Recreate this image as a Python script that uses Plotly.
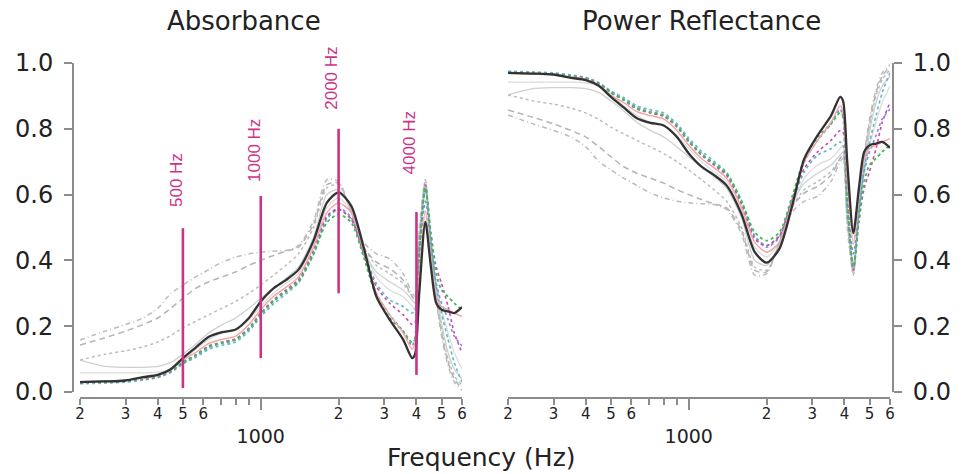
import math
import plotly.graph_objects as go

# ---------------- data ----------------
freq_hz = [200, 250, 300, 350, 400, 450, 500, 560, 630, 710, 800, 900, 1000,
           1120, 1250, 1400, 1600, 1800, 2000, 2240, 2500, 2800, 3150, 3550,
           3850, 3950, 4100, 4330, 4550, 4770, 5000, 5300, 5600, 6000]

abs_black = [0.030, 0.032, 0.035, 0.045, 0.052, 0.070, 0.103, 0.135, 0.168, 0.182, 0.190, 0.225, 0.275,
             0.315, 0.340, 0.372, 0.460, 0.575, 0.607, 0.565, 0.440, 0.290, 0.220, 0.160,
             0.103, 0.115, 0.300, 0.517, 0.380, 0.270, 0.250, 0.245, 0.240, 0.258]
abs_pink = [0.032, 0.034, 0.036, 0.042, 0.050, 0.068, 0.098, 0.120, 0.148, 0.160, 0.170, 0.205, 0.250,
            0.290, 0.318, 0.350, 0.440, 0.545, 0.575, 0.545, 0.430, 0.300, 0.235, 0.180,
            0.130, 0.150, 0.350, 0.550, 0.400, 0.290, 0.260, 0.250, 0.240, 0.230]
abs_blue = [0.028, 0.030, 0.033, 0.038, 0.045, 0.062, 0.088, 0.110, 0.135, 0.148, 0.158, 0.190, 0.235,
            0.275, 0.305, 0.338, 0.425, 0.530, 0.560, 0.530, 0.420, 0.300, 0.235, 0.185,
            0.140, 0.170, 0.400, 0.580, 0.450, 0.330, 0.270, 0.220, 0.170, 0.140]
abs_teal = [0.025, 0.027, 0.030, 0.036, 0.044, 0.060, 0.085, 0.105, 0.130, 0.142, 0.152, 0.185, 0.228,
            0.268, 0.298, 0.332, 0.418, 0.525, 0.555, 0.525, 0.430, 0.330, 0.280, 0.260,
            0.240, 0.250, 0.450, 0.620, 0.450, 0.320, 0.240, 0.160, 0.090, 0.030]
abs_green = [0.030, 0.031, 0.034, 0.040, 0.048, 0.065, 0.090, 0.112, 0.138, 0.150, 0.160, 0.192, 0.238,
             0.278, 0.305, 0.335, 0.420, 0.515, 0.540, 0.515, 0.410, 0.290, 0.225, 0.185,
             0.150, 0.160, 0.420, 0.620, 0.480, 0.360, 0.310, 0.290, 0.270, 0.250]
abs_magenta = [0.030, 0.032, 0.035, 0.040, 0.047, 0.064, 0.090, 0.113, 0.140, 0.152, 0.162, 0.195, 0.240,
               0.280, 0.310, 0.342, 0.430, 0.535, 0.555, 0.525, 0.420, 0.320, 0.270, 0.235,
               0.205, 0.210, 0.420, 0.630, 0.480, 0.380, 0.330, 0.260, 0.180, 0.120]
abs_gray_dashdot = [0.158, 0.185, 0.205, 0.225, 0.255, 0.300, 0.325, 0.350, 0.372, 0.395, 0.410, 0.420, 0.425,
                    0.428, 0.430, 0.445, 0.520, 0.645, 0.640, 0.545, 0.455, 0.420, 0.405, 0.360,
                    0.300, 0.290, 0.500, 0.645, 0.450, 0.280, 0.170, 0.080, 0.030, 0.005]
abs_gray_dash = [0.143, 0.165, 0.185, 0.205, 0.225, 0.255, 0.285, 0.315, 0.335, 0.350, 0.365, 0.385, 0.400,
                 0.415, 0.428, 0.440, 0.510, 0.630, 0.635, 0.545, 0.440, 0.395, 0.375, 0.340,
                 0.290, 0.280, 0.480, 0.640, 0.450, 0.290, 0.180, 0.090, 0.040, 0.010]
abs_gray_dot = [0.097, 0.115, 0.125, 0.137, 0.152, 0.172, 0.195, 0.215, 0.235, 0.255, 0.275, 0.300, 0.325,
                0.355, 0.385, 0.420, 0.500, 0.620, 0.630, 0.550, 0.440, 0.385, 0.360, 0.330,
                0.290, 0.280, 0.470, 0.630, 0.460, 0.300, 0.190, 0.100, 0.050, 0.020]
abs_gray_solid = [0.097, 0.078, 0.075, 0.075, 0.078, 0.090, 0.115, 0.145, 0.180, 0.205, 0.225, 0.255, 0.285,
                  0.315, 0.345, 0.380, 0.470, 0.600, 0.615, 0.550, 0.430, 0.365, 0.335, 0.310,
                  0.280, 0.270, 0.460, 0.620, 0.460, 0.320, 0.210, 0.120, 0.070, 0.040]
abs_gray_light = [0.058, 0.058, 0.058, 0.058, 0.060, 0.070, 0.095, 0.130, 0.160, 0.180, 0.190, 0.220, 0.260,
                  0.300, 0.330, 0.360, 0.450, 0.560, 0.590, 0.545, 0.440, 0.350, 0.310, 0.290,
                  0.260, 0.250, 0.440, 0.600, 0.450, 0.330, 0.250, 0.180, 0.120, 0.070]

# vertical marker lines on the absorbance panel
marker_freqs = [500, 1000, 2000, 4000]
marker_labels = ["500 Hz", "1000 Hz", "2000 Hz", "4000 Hz"]
marker_bottom = [0.012, 0.103, 0.300, 0.052]
marker_top = [0.498, 0.596, 0.800, 0.547]
marker_label_center = [0.644, 0.735, 0.954, 0.757]

minor_tick_vals = [200, 300, 400, 500, 600, 700, 800, 900, 2000, 3000, 4000, 5000, 6000]
minor_tick_text = ["2", "3", "4", "5", "6", "", "", "", "2", "3", "4", "5", "6"]
major_tick_vals = [1000]
major_tick_text = ["1000"]
y_tick_vals = [0.0, 0.2, 0.4, 0.6, 0.8, 1.0]
y_tick_text = ["0.0", "0.2", "0.4", "0.6", "0.8", "1.0"]

# ---------------- styles ----------------
W, H = 963, 474
FONT = "DejaVu Sans, Liberation Sans, Arial, sans-serif"
AXC = "#8c8c8c"
MAG = "#cc3388"

curves = [
    # (absorbance values, colour, dash, width)
    (abs_gray_light, "#dcdcdc", "solid", 1.3),
    (abs_gray_solid, "#cfcfcf", "solid", 1.3),
    (abs_gray_dot, "#bdbdbd", "dot", 1.5),
    (abs_gray_dash, "#b4b4b4", "6px,4px", 1.5),
    (abs_gray_dashdot, "#bcbcbc", "5px,3px,1px,3px", 1.5),
    (abs_teal, "#5fb8c8", "dot", 1.6),
    (abs_blue, "#7890e0", "dot", 1.6),
    (abs_magenta, "#d048a8", "dot", 1.6),
    (abs_green, "#3cbf4a", "dot", 1.8),
    (abs_pink, "#f3a3a3", "solid", 1.4),
    (abs_black, "#333333", "solid", 2.3),
]

fig = go.Figure()

for vals, color, dash, width in curves:
    line = dict(color=color, dash=dash, width=width, shape="spline", smoothing=0.7)
    fig.add_trace(go.Scatter(x=freq_hz, y=vals, mode="lines", line=line,
                             xaxis="x", yaxis="y", showlegend=False, hoverinfo="skip"))
    # power reflectance = 1 - absorbance
    refl = [round(1.0 - v, 4) for v in vals]
    fig.add_trace(go.Scatter(x=freq_hz, y=refl, mode="lines", line=line,
                             xaxis="x2", yaxis="y2", showlegend=False, hoverinfo="skip"))

for f, lo, hi in zip(marker_freqs, marker_bottom, marker_top):
    fig.add_trace(go.Scatter(x=[f, f], y=[lo, hi], mode="lines",
                             line=dict(color=MAG, width=2.6),
                             xaxis="x", yaxis="y", showlegend=False, hoverinfo="skip"))

# carriers for the overlay axes that draw the long 1000 tick
fig.add_trace(go.Scatter(x=[1000], y=[None], mode="lines", xaxis="x3", yaxis="y",
                         showlegend=False, hoverinfo="skip"))
fig.add_trace(go.Scatter(x=[1000], y=[None], mode="lines", xaxis="x4", yaxis="y2",
                         showlegend=False, hoverinfo="skip"))

annotations = []
for f, txt, yc in zip(marker_freqs, marker_labels, marker_label_center):
    annotations.append(dict(x=math.log10(f), y=yc, xref="x", yref="y", text=txt,
                            textangle=-90, showarrow=False, xshift=-7,
                            xanchor="center", yanchor="middle",
                            font=dict(family="Liberation Sans, Arial, sans-serif",
                                      size=17, color=MAG)))

annotations += [
    dict(x=244 / W, y=1 - 21 / H, xref="paper", yref="paper", text="Absorbance",
         xanchor="center", yanchor="middle", showarrow=False,
         font=dict(family=FONT, size=26, color="#222")),
    dict(x=701 / W, y=1 - 21 / H, xref="paper", yref="paper", text="Power Reflectance",
         xanchor="center", yanchor="middle", showarrow=False,
         font=dict(family=FONT, size=26, color="#222")),
    dict(x=481 / W, y=1 - 457 / H, xref="paper", yref="paper", text="Frequency (Hz)",
         xanchor="center", yanchor="middle", showarrow=False,
         font=dict(family=FONT, size=25, color="#222")),
]

xrange = [math.log10(200), math.log10(6000)]
xpos = 1 - 398 / H
ydom = [1 - 392 / H, 1 - 63 / H]

def xaxis_main(dom):
    return dict(type="log", range=xrange, domain=dom, anchor="free", position=xpos,
                showline=True, linecolor=AXC, linewidth=2, ticks="outside", ticklen=6,
                tickwidth=1.5, tickcolor=AXC, tickmode="array", tickvals=minor_tick_vals,
                ticktext=minor_tick_text, tickfont=dict(family=FONT, size=15, color="#222"),
                showgrid=False, zeroline=False, automargin=False, ticklabelstandoff=-4)

def xaxis_over(over):
    return dict(type="log", range=xrange, overlaying=over, anchor="free", position=xpos,
                showline=False, ticks="outside", ticklen=11, tickwidth=1.5, tickcolor=AXC,
                tickmode="array", tickvals=major_tick_vals, ticktext=major_tick_text,
                tickfont=dict(family=FONT, size=19, color="#222"), ticklabelstandoff=10,
                showgrid=False, zeroline=False, automargin=False)

def yaxis(pos, side):
    return dict(range=[0, 1], domain=ydom, anchor="free", position=pos, side=side,
                showline=True, linecolor=AXC, linewidth=2, ticks="outside", ticklen=8,
                tickwidth=1.5, tickcolor=AXC, tickmode="array", tickvals=y_tick_vals,
                ticktext=y_tick_text, tickfont=dict(family=FONT, size=24, color="#222"),
                showgrid=False, zeroline=False, automargin=False, ticklabelstandoff=6)

fig.update_layout(
    width=W, height=H, autosize=False,
    margin=dict(l=0, r=0, t=0, b=0),
    paper_bgcolor="white", plot_bgcolor="white",
    showlegend=False,
    xaxis=xaxis_main([80 / W, 462 / W]),
    xaxis2=xaxis_main([508 / W, 890 / W]),
    xaxis3=xaxis_over("x"),
    xaxis4=xaxis_over("x2"),
    yaxis=yaxis(73 / W, "left"),
    yaxis2=yaxis(893 / W, "right"),
    annotations=annotations,
)

fig.write_html("out.html", config={"displayModeBar": False},
               post_script="document.body.style.margin='0';document.body.style.overflow='hidden';")
